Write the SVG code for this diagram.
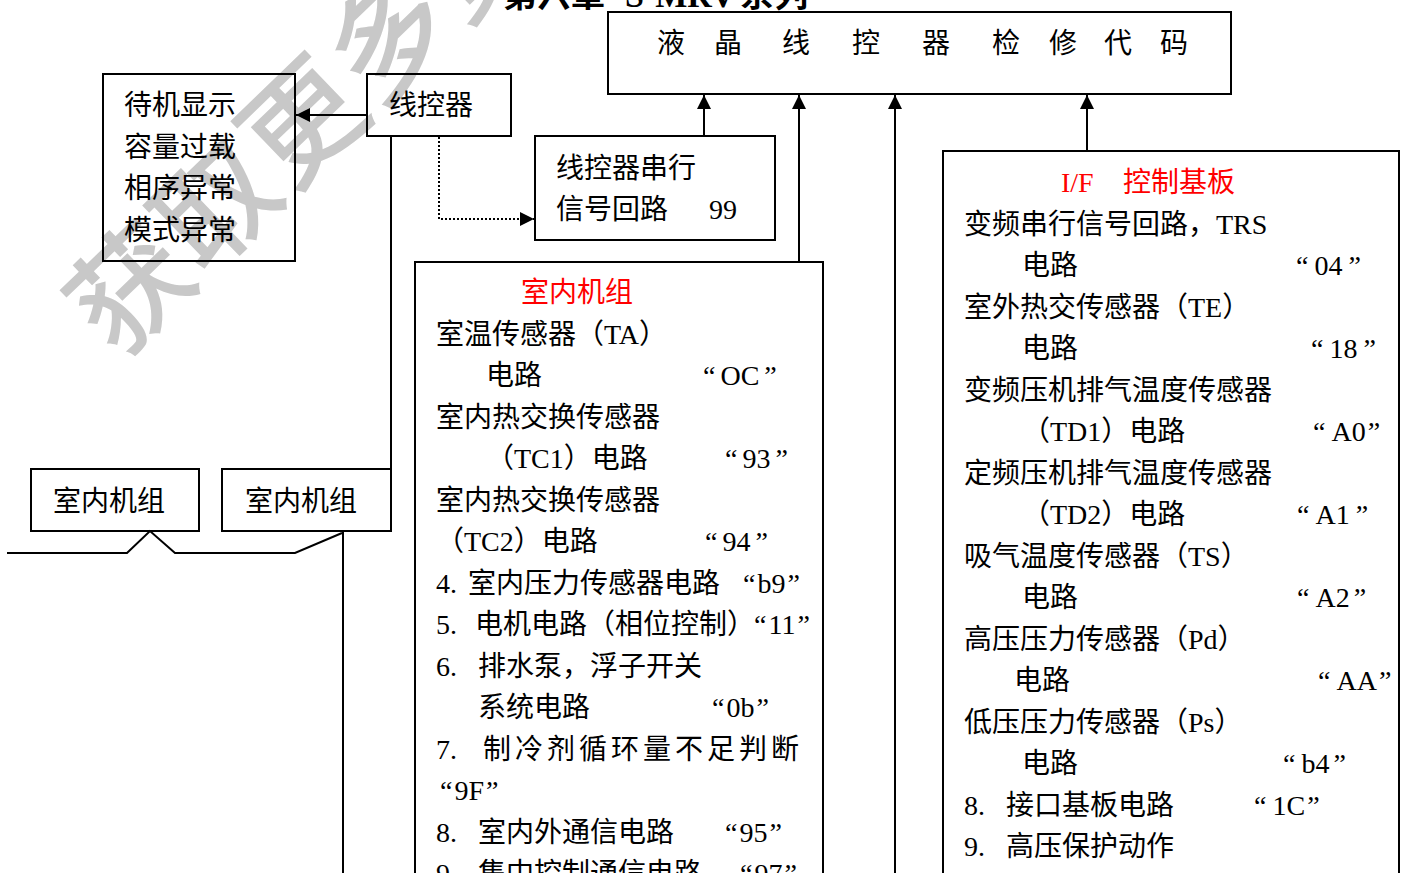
<svg xmlns="http://www.w3.org/2000/svg" width="1407" height="873" viewBox="0 0 1407 873">
<style>
.box{fill:none;stroke:#000;stroke-width:2}
.ln{fill:none;stroke:#000;stroke-width:2}
.t{font-family:"Liberation Serif","Noto Sans CJK SC",serif;font-size:28px;fill:#000}
.r{fill:#ff0000}
.wm{font-family:"Noto Sans CJK SC",sans-serif;font-size:118px;font-weight:500;fill:#c8c8c8;letter-spacing:2px}
.ttl{font-family:"Liberation Serif","Noto Sans CJK SC",serif;font-size:34px;font-weight:bold;fill:#000}
</style>
<defs>
<marker id="ah" viewBox="0 0 10 10" refX="10" refY="5" markerWidth="15" markerHeight="14" markerUnits="userSpaceOnUse" orient="auto">
<path d="M0,0 L10,5 L0,10 z" fill="#000"/>
</marker>
</defs>
<rect width="1407" height="873" fill="#fff"/>
<g id="watermark">
<text class="wm" transform="translate(130,290) rotate(-44)" x="-58" y="42">获取更多资料</text>
</g>
<g id="title">
<text class="ttl" x="503" y="7">第六章</text>
<text class="ttl" x="625" y="7">S-MRV</text>
<text class="ttl" x="740" y="7">系列</text>
</g>
<g id="connectors">
<line class="ln" x1="704" y1="136" x2="704" y2="95" marker-end="url(#ah)"/>
<line class="ln" x1="799" y1="262" x2="799" y2="95" marker-end="url(#ah)"/>
<line class="ln" x1="895" y1="873" x2="895" y2="95" marker-end="url(#ah)"/>
<line class="ln" x1="1087" y1="151" x2="1087" y2="95" marker-end="url(#ah)"/>
<line class="ln" x1="367" y1="115" x2="296" y2="115" marker-end="url(#ah)"/>
<polyline class="ln" points="439,137 439,219 534,219" stroke-dasharray="2,2" marker-end="url(#ah)"/>
<line class="ln" x1="391" y1="136" x2="391" y2="469"/>
<polyline class="ln" points="7,553 127,553 150,531 175,553 295,553 342,533"/>
<line class="ln" x1="343" y1="532" x2="343" y2="873"/>
</g>
<g id="node-lcd">
<rect class="box" x="608" y="12" width="623" height="82"/>
<text class="t" x="657" y="53" font-size="26">液</text>
<text class="t" x="714" y="53" font-size="26">晶</text>
<text class="t" x="782" y="53" font-size="26">线</text>
<text class="t" x="852" y="53" font-size="26">控</text>
<text class="t" x="922" y="53" font-size="26">器</text>
<text class="t" x="992" y="53" font-size="26">检</text>
<text class="t" x="1049" y="53" font-size="26">修</text>
<text class="t" x="1104" y="53" font-size="26">代</text>
<text class="t" x="1160" y="53" font-size="26">码</text>
</g>
<g id="node-display">
<rect class="box" x="103" y="74" width="192" height="187"/>
<text class="t" x="124" y="115">待机显示</text>
<text class="t" x="124" y="157">容量过载</text>
<text class="t" x="124" y="198">相序异常</text>
<text class="t" x="124" y="240">模式异常</text>
</g>
<g id="node-controller">
<rect class="box" x="367" y="74" width="144" height="62"/>
<text class="t" x="389" y="115">线控器</text>
</g>
<g id="node-serial">
<rect class="box" x="535" y="136" width="240" height="104"/>
<text class="t" x="556" y="178">线控器串行</text>
<text class="t" x="556" y="219">信号回路</text>
<text class="t" x="709" y="219">99</text>
</g>
<g id="node-indoor1">
<rect class="box" x="31" y="469" width="168" height="62"/>
<text class="t" x="53" y="511">室内机组</text>
</g>
<g id="node-indoor2">
<rect class="box" x="222" y="469" width="169" height="62"/>
<text class="t" x="245" y="511">室内机组</text>
</g>
<g id="node-indoor-codes">
<rect class="box" x="415" y="262" width="408" height="640"/>
<text class="t r" x="521" y="302">室内机组</text>
<text class="t" x="436" y="344">室温传感器（TA）</text>
<text class="t" x="486" y="385">电路</text>
<text class="t" x="703" y="385">“<tspan dx="5">OC</tspan><tspan dx="5">”</tspan></text>
<text class="t" x="436" y="427">室内热交换传感器</text>
<text class="t" x="486" y="468">（TC1）电路</text>
<text class="t" x="725" y="468">“<tspan dx="5">93</tspan><tspan dx="5">”</tspan></text>
<text class="t" x="436" y="510">室内热交换传感器</text>
<text class="t" x="436" y="551">（TC2）电路</text>
<text class="t" x="705" y="551">“<tspan dx="5">94</tspan><tspan dx="5">”</tspan></text>
<text class="t" x="436" y="593">4.</text>
<text class="t" x="468" y="593">室内压力传感器电路</text>
<text class="t" x="743" y="593">“<tspan dx="2">b9</tspan><tspan dx="2">”</tspan></text>
<text class="t" x="436" y="634">5.</text>
<text class="t" x="475" y="634">电机电路（相位控制）</text>
<text class="t" x="754" y="634">“<tspan dx="2">11</tspan><tspan dx="2">”</tspan></text>
<text class="t" x="436" y="676">6.</text>
<text class="t" x="478" y="676">排水泵，浮子开关</text>
<text class="t" x="478" y="717">系统电路</text>
<text class="t" x="712" y="717">“<tspan dx="2">0b</tspan><tspan dx="2">”</tspan></text>
<text class="t" x="436" y="759">7.</text>
<text class="t" x="483" y="759" letter-spacing="4">制冷剂循环量不足判断</text>
<text class="t" x="440" y="800">“<tspan dx="2">9F</tspan><tspan dx="2">”</tspan></text>
<text class="t" x="436" y="842">8.</text>
<text class="t" x="478" y="842">室内外通信电路</text>
<text class="t" x="725" y="842">“<tspan dx="2">95</tspan><tspan dx="2">”</tspan></text>
<text class="t" x="436" y="883">9.</text>
<text class="t" x="478" y="883">集中控制通信电路</text>
<text class="t" x="740" y="883">“<tspan dx="2">97</tspan><tspan dx="2">”</tspan></text>
</g>
<g id="node-if-board">
<rect class="box" x="943" y="151" width="456" height="760"/>
<text class="t r" x="1061" y="192">I/F</text>
<text class="t r" x="1123" y="192">控制基板</text>
<text class="t" x="964" y="234">变频串行信号回路，TRS</text>
<text class="t" x="1022" y="275">电路</text>
<text class="t" x="1296" y="275">“<tspan dx="6">04</tspan><tspan dx="6">”</tspan></text>
<text class="t" x="964" y="317">室外热交传感器（TE）</text>
<text class="t" x="1022" y="358">电路</text>
<text class="t" x="1311" y="358">“<tspan dx="6">18</tspan><tspan dx="6">”</tspan></text>
<text class="t" x="964" y="400">变频压机排气温度传感器</text>
<text class="t" x="1022" y="441">（TD1）电路</text>
<text class="t" x="1313" y="441">“<tspan dx="6">A0</tspan><tspan dx="2">”</tspan></text>
<text class="t" x="964" y="483">定频压机排气温度传感器</text>
<text class="t" x="1022" y="524">（TD2）电路</text>
<text class="t" x="1297" y="524">“<tspan dx="6">A1</tspan><tspan dx="6">”</tspan></text>
<text class="t" x="964" y="566">吸气温度传感器（TS）</text>
<text class="t" x="1022" y="607">电路</text>
<text class="t" x="1297" y="607">“<tspan dx="6">A2</tspan><tspan dx="4">”</tspan></text>
<text class="t" x="964" y="649">高压压力传感器（Pd）</text>
<text class="t" x="1014" y="690">电路</text>
<text class="t" x="1318" y="690">“<tspan dx="6">AA</tspan><tspan dx="2">”</tspan></text>
<text class="t" x="964" y="732">低压压力传感器（Ps）</text>
<text class="t" x="1022" y="773">电路</text>
<text class="t" x="1283" y="773">“<tspan dx="6">b4</tspan><tspan dx="4">”</tspan></text>
<text class="t" x="964" y="815">8.</text>
<text class="t" x="1006" y="815">接口基板电路</text>
<text class="t" x="1254" y="815">“<tspan dx="6">1C</tspan><tspan dx="2">”</tspan></text>
<text class="t" x="964" y="856">9.</text>
<text class="t" x="1006" y="856">高压保护动作</text>
</g>
</svg>
